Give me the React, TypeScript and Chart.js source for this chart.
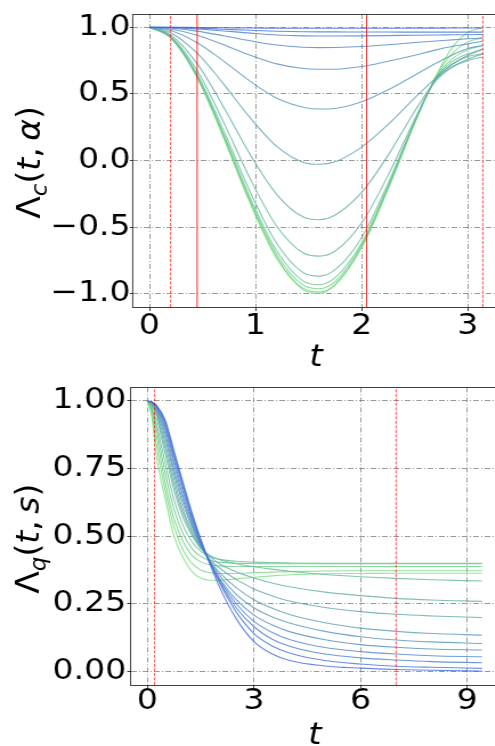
import React, { useEffect, useRef } from 'react';
import { Chart, registerables } from 'chart.js';

Chart.register(...registerables);

// ---------------- data: top panel  Λc(t, α) ----------------
const T_C = [0, 0.2, 0.45, 0.7, 0.95, 1.2, 1.45, 1.6, 1.75, 2.0, 2.25, 2.5, 2.7, 2.85, 3.0, 3.1416];
const LC_00 = [1, 1.0, 0.998, 0.996, 0.994, 0.993, 0.992, 0.992, 0.992, 0.992, 0.992, 0.993, 0.993, 0.994, 0.994, 0.995];
const LC_01 = [1, 0.999, 0.993, 0.985, 0.977, 0.97, 0.966, 0.965, 0.965, 0.964, 0.964, 0.963, 0.963, 0.963, 0.963, 0.963];
const LC_02 = [1, 0.997, 0.987, 0.972, 0.956, 0.942, 0.935, 0.934, 0.934, 0.935, 0.937, 0.94, 0.942, 0.943, 0.944, 0.945];
const LC_03 = [1, 0.994, 0.971, 0.936, 0.898, 0.866, 0.85, 0.847, 0.848, 0.855, 0.868, 0.885, 0.897, 0.905, 0.913, 0.92];
const LC_04 = [1, 0.987, 0.94, 0.868, 0.79, 0.725, 0.69, 0.684, 0.685, 0.705, 0.745, 0.79, 0.83, 0.855, 0.875, 0.896];
const LC_05 = [1, 0.976, 0.884, 0.745, 0.594, 0.467, 0.4, 0.386, 0.39, 0.44, 0.53, 0.64, 0.73, 0.79, 0.84, 0.863];
const LC_06 = [1, 0.959, 0.805, 0.573, 0.319, 0.105, -0.015, -0.029, -0.01, 0.1, 0.27, 0.47, 0.62, 0.72, 0.79, 0.834];
const LC_07 = [1, 0.943, 0.727, 0.4, 0.043, -0.256, -0.425, -0.445, -0.41, -0.24, 0.04, 0.37, 0.6, 0.7, 0.76, 0.8];
const LC_08 = [1, 0.932, 0.675, 0.286, -0.138, -0.494, -0.695, -0.718, -0.68, -0.47, -0.11, 0.31, 0.605, 0.7, 0.75, 0.777];
const LC_09 = [1, 0.926, 0.647, 0.224, -0.237, -0.624, -0.843, -0.868, -0.82, -0.58, -0.17, 0.295, 0.615, 0.72, 0.78, 0.8];
const LC_10 = [1, 0.924, 0.634, 0.197, -0.28, -0.68, -0.906, -0.933, -0.88, -0.62, -0.19, 0.29, 0.62, 0.74, 0.8, 0.834];
const LC_11 = [1, 0.922, 0.629, 0.185, -0.3, -0.707, -0.936, -0.963, -0.91, -0.635, -0.2, 0.285, 0.625, 0.76, 0.83, 0.863];
const LC_12 = [1, 0.921, 0.624, 0.174, -0.316, -0.728, -0.961, -0.988, -0.93, -0.65, -0.21, 0.28, 0.63, 0.8, 0.89, 0.92];
const LC_13 = [1, 0.921, 0.622, 0.17, -0.323, -0.737, -0.971, -0.998, -0.936, -0.654, -0.211, 0.284, 0.635, 0.843, 0.96, 0.995];
const LC_SERIES = [LC_00, LC_01, LC_02, LC_03, LC_04, LC_05, LC_06, LC_07, LC_08, LC_09, LC_10, LC_11, LC_12, LC_13];

const VLINES_C_SOLID = [0.45, 2.047];
const VLINES_C_DASHED = [0.2, 3.1416];
const X_TICKS_C = [0, 1, 2, 3];
const X_TICK_LABELS_C = ['0', '1', '2', '3'];
const Y_TICKS_C = [-1, -0.5, 0, 0.5, 1];
const Y_TICK_LABELS_C = ['\u22121.0', '\u22120.5', '0.0', '0.5', '1.0'];
const X_RANGE_C = [-0.157, 3.299];
const Y_RANGE_C = [-1.1, 1.1];
const X_TITLE_C = 't';
const Y_TITLE_C = [
  { text: '\u039B' },
  { text: 'c', italic: true, sub: true },
  { text: '(' },
  { text: 't', italic: true },
  { text: ',', gap: true },
  { text: '\u03B1', italic: true },
  { text: ')' },
];

// ---------------- data: bottom panel  Λq(t, s) ----------------
const T_Q = [0, 0.125, 0.25, 0.5, 0.75, 1.0, 1.25, 1.5, 1.75, 2.0, 2.5, 3.0, 3.5, 4.0, 5.0, 6.0, 7.0, 8.0, 9.42];
const LQ_00 = [1, 0.996, 0.985, 0.93, 0.815, 0.7, 0.59, 0.49, 0.4, 0.32, 0.195, 0.11, 0.065, 0.04, 0.02, 0.012, 0.007, 0.004, 0.001];
const LQ_01 = [1, 0.996, 0.984, 0.925, 0.805, 0.69, 0.58, 0.485, 0.405, 0.335, 0.22, 0.14, 0.095, 0.068, 0.04, 0.027, 0.019, 0.015, 0.011];
const LQ_02 = [1, 0.995, 0.982, 0.915, 0.795, 0.68, 0.572, 0.48, 0.405, 0.34, 0.235, 0.165, 0.12, 0.093, 0.064, 0.05, 0.042, 0.036, 0.032];
const LQ_03 = [1, 0.995, 0.98, 0.905, 0.78, 0.665, 0.563, 0.475, 0.405, 0.345, 0.25, 0.185, 0.145, 0.118, 0.088, 0.073, 0.064, 0.058, 0.054];
const LQ_04 = [1, 0.994, 0.977, 0.895, 0.765, 0.65, 0.553, 0.47, 0.405, 0.35, 0.265, 0.208, 0.172, 0.147, 0.117, 0.099, 0.089, 0.083, 0.079];
const LQ_05 = [1, 0.993, 0.973, 0.88, 0.745, 0.635, 0.545, 0.47, 0.41, 0.36, 0.285, 0.235, 0.202, 0.179, 0.148, 0.128, 0.116, 0.109, 0.103];
const LQ_06 = [1, 0.992, 0.968, 0.865, 0.73, 0.62, 0.535, 0.465, 0.41, 0.37, 0.31, 0.265, 0.234, 0.21, 0.18, 0.16, 0.148, 0.14, 0.134];
const LQ_07 = [1, 0.99, 0.962, 0.845, 0.71, 0.6, 0.522, 0.46, 0.415, 0.385, 0.34, 0.305, 0.28, 0.26, 0.236, 0.221, 0.211, 0.205, 0.199];
const LQ_08 = [1, 0.988, 0.955, 0.825, 0.69, 0.585, 0.512, 0.46, 0.425, 0.4, 0.368, 0.345, 0.327, 0.313, 0.293, 0.28, 0.27, 0.264, 0.259];
const LQ_09 = [1, 0.985, 0.945, 0.805, 0.67, 0.57, 0.503, 0.455, 0.43, 0.415, 0.398, 0.387, 0.378, 0.37, 0.358, 0.35, 0.344, 0.339, 0.334];
const LQ_10 = [1, 0.977, 0.92, 0.77, 0.635, 0.54, 0.48, 0.445, 0.425, 0.415, 0.407, 0.404, 0.402, 0.401, 0.4, 0.4, 0.4, 0.4, 0.4];
const LQ_11 = [1, 0.972, 0.9, 0.735, 0.6, 0.51, 0.455, 0.425, 0.41, 0.404, 0.4, 0.399, 0.398, 0.398, 0.398, 0.398, 0.398, 0.398, 0.398];
const LQ_12 = [1, 0.965, 0.875, 0.7, 0.565, 0.48, 0.43, 0.405, 0.394, 0.39, 0.388, 0.388, 0.388, 0.388, 0.388, 0.388, 0.388, 0.388, 0.388];
const LQ_13 = [1, 0.955, 0.84, 0.67, 0.535, 0.45, 0.4, 0.375, 0.365, 0.362, 0.362, 0.365, 0.367, 0.369, 0.371, 0.372, 0.372, 0.372, 0.372];
const LQ_14 = [1, 0.94, 0.8, 0.64, 0.5, 0.42, 0.37, 0.345, 0.337, 0.337, 0.342, 0.348, 0.353, 0.357, 0.361, 0.362, 0.363, 0.363, 0.363];
const LQ_SERIES = [LQ_00, LQ_01, LQ_02, LQ_03, LQ_04, LQ_05, LQ_06, LQ_07, LQ_08, LQ_09, LQ_10, LQ_11, LQ_12, LQ_13, LQ_14];

const VLINES_Q_SOLID: number[] = [];
const VLINES_Q_DASHED = [0.2, 7.0];
const X_TICKS_Q = [0, 3, 6, 9];
const X_TICK_LABELS_Q = ['0', '3', '6', '9'];
const Y_TICKS_Q = [0, 0.25, 0.5, 0.75, 1];
const Y_TICK_LABELS_Q = ['0.00', '0.25', '0.50', '0.75', '1.00'];
const X_RANGE_Q = [-0.471, 9.896];
const Y_RANGE_Q = [-0.05, 1.05];
const X_TITLE_Q = 't';
const Y_TITLE_Q = [
  { text: '\u039B' },
  { text: 'q', italic: true, sub: true },
  { text: '(' },
  { text: 't', italic: true },
  { text: ',', gap: true },
  { text: 's', italic: true },
  { text: ')' },
];

// ---------------- styling ----------------
const SX = 1.14; // horizontal stretch of the picture
const CW = Math.ceil(503 / SX); // internal canvas width
const FONT = '"DejaVu Sans", "Liberation Sans", sans-serif';
const TICK_SIZE = 29;
const TITLE_SIZE = 30;
const YTITLE_SIZE = 33;

function lineColor(i: number, n: number) {
  const f = n > 1 ? i / (n - 1) : 0;
  const c0 = [65, 105, 225];
  const c1 = [120, 225, 120];
  const c = c0.map((v, k) => Math.round(v + (c1[k] - v) * f));
  return `rgba(${c[0]},${c[1]},${c[2]},0.8)`;
}

const framePlugin = {
  id: 'frame',
  afterDraw(chart: any) {
    const { ctx, chartArea: a } = chart;
    ctx.save();
    ctx.strokeStyle = 'rgba(30,30,30,0.85)';
    ctx.lineWidth = 1;
    ctx.setLineDash([]);
    ctx.strokeRect(a.left, Math.round(a.top) + 0.5, a.right - a.left, Math.round(a.bottom) - Math.round(a.top));
    ctx.restore();
  },
};

function makeYTitlePlugin(parts: any[], cxScreen: number, dy: number) {
  return {
    id: 'richYTitle',
    afterDraw(chart: any) {
      const { ctx, chartArea: a } = chart;
      const size = YTITLE_SIZE;
      const cy = (a.top + a.bottom) / 2 + dy;
      const fontFor = (p: any) =>
        `${p.italic ? 'italic ' : ''}${Math.round(size * (p.sub ? 0.7 : 1))}px ${FONT}`;
      ctx.save();
      ctx.translate(cxScreen / SX, cy);
      ctx.scale(1 / SX, 1);
      ctx.rotate(-Math.PI / 2);
      let total = 0;
      const widths = parts.map((p) => {
        ctx.font = fontFor(p);
        const w = ctx.measureText(p.text).width + (p.gap ? size * 0.2 : 0);
        total += w;
        return w;
      });
      let x = -total / 2;
      const base = size * 0.3;
      ctx.fillStyle = '#000';
      ctx.textBaseline = 'alphabetic';
      ctx.textAlign = 'left';
      parts.forEach((p, i) => {
        ctx.font = fontFor(p);
        ctx.fillText(p.text, x, base + (p.sub ? size * 0.22 : 0));
        x += widths[i];
      });
      ctx.restore();
    },
  };
}

interface PanelSpec {
  height: number;
  t: number[];
  series: number[][];
  vSolid: number[];
  vDashed: number[];
  xTicks: number[];
  xLabels: string[];
  yTicks: number[];
  yLabels: string[];
  xRange: number[];
  yRange: number[];
  xTitle: string;
  yTitle: any[];
  padTop: number;
  padRight: number;
  yAxisWidth: number;
  xAxisHeight: number;
  xTickLen: number;
  xTickPad: number;
  yTickLen: number;
  yTickPad: number;
  titleLH: number;
  yTitleX: number;
  yTitleDy: number;
}

function buildConfig(s: PanelSpec): any {
  const datasets: any[] = [];
  s.vSolid.forEach((v) =>
    datasets.push({
      data: [{ x: v, y: s.yRange[0] }, { x: v, y: s.yRange[1] }],
      borderColor: 'rgba(235,0,0,0.95)',
      borderWidth: 1 / SX,
      pointRadius: 0,
    })
  );
  s.vDashed.forEach((v) =>
    datasets.push({
      data: [{ x: v, y: s.yRange[0] }, { x: v, y: s.yRange[1] }],
      borderColor: 'rgba(255,0,0,0.8)',
      borderWidth: 1 / SX,
      borderDash: [3, 1.5],
      pointRadius: 0,
    })
  );
  const n = s.series.length;
  s.series.forEach((arr, i) =>
    datasets.push({
      data: s.t.map((tv, k) => ({ x: tv, y: arr[k] })),
      borderColor: lineColor(i, n),
      borderWidth: 1.1,
      pointRadius: 0,
      cubicInterpolationMode: 'monotone',
    })
  );
  const grid = (tl: number) => ({
    color: 'rgba(110,110,110,0.7)',
    lineWidth: 1,
    drawTicks: true,
    tickLength: tl,
    tickColor: 'rgba(40,40,40,0.9)',
    tickWidth: 1,
  });
  const tickFont = { family: FONT, size: TICK_SIZE, lineHeight: 1 };
  return {
    type: 'line',
    data: { datasets },
    options: {
      responsive: false,
      animation: false,
      devicePixelRatio: 1,
      layout: { padding: { left: 0, right: s.padRight, top: s.padTop, bottom: 0 } },
      plugins: { legend: { display: false }, tooltip: { enabled: false }, title: { display: false } },
      elements: { point: { radius: 0 } },
      scales: {
        x: {
          type: 'linear',
          min: s.xRange[0],
          max: s.xRange[1],
          afterBuildTicks: (ax: any) => {
            ax.ticks = s.xTicks.map((v) => ({ value: v }));
          },
          afterFit: (ax: any) => {
            ax.height = s.xAxisHeight;
          },
          grid: grid(s.xTickLen),
          border: { display: false, dash: [5, 2, 1, 2] },
          ticks: {
            autoSkip: false,
            maxRotation: 0,
            minRotation: 0,
            padding: s.xTickPad,
            color: '#000',
            font: tickFont,
            callback: (_v: any, i: number) => s.xLabels[i],
          },
          title: {
            display: true,
            text: s.xTitle,
            color: '#000',
            padding: 0,
            font: { family: FONT, style: 'italic', size: TITLE_SIZE, lineHeight: s.titleLH },
          },
        },
        y: {
          type: 'linear',
          min: s.yRange[0],
          max: s.yRange[1],
          afterBuildTicks: (ax: any) => {
            ax.ticks = s.yTicks.map((v) => ({ value: v }));
          },
          afterFit: (ax: any) => {
            ax.width = s.yAxisWidth;
          },
          grid: grid(s.yTickLen),
          border: { display: false, dash: [5, 2, 1, 2] },
          ticks: {
            autoSkip: false,
            padding: s.yTickPad,
            color: '#000',
            font: tickFont,
            callback: (_v: any, i: number) => s.yLabels[i],
          },
        },
      },
    },
    plugins: [framePlugin, makeYTitlePlugin(s.yTitle, s.yTitleX, s.yTitleDy)],
  };
}

const TOP_SPEC: PanelSpec = {
  height: 372,
  t: T_C,
  series: LC_SERIES,
  vSolid: VLINES_C_SOLID,
  vDashed: VLINES_C_DASHED,
  xTicks: X_TICKS_C,
  xLabels: X_TICK_LABELS_C,
  yTicks: Y_TICKS_C,
  yLabels: Y_TICK_LABELS_C,
  xRange: X_RANGE_C,
  yRange: Y_RANGE_C,
  xTitle: X_TITLE_C,
  yTitle: Y_TITLE_C,
  padTop: 11,
  padRight: CW - 499.4 / SX,
  yAxisWidth: 132.7 / SX,
  xAxisHeight: 372 - 307,
  xTickLen: 4,
  xTickPad: 0.5,
  yTickLen: 2.5,
  yTickPad: -0.6,
  titleLH: 0.9,
  yTitleX: 30,
  yTitleDy: 2,
};

const BOTTOM_SPEC: PanelSpec = {
  height: 374,
  t: T_Q,
  series: LQ_SERIES,
  vSolid: VLINES_Q_SOLID,
  vDashed: VLINES_Q_DASHED,
  xTicks: X_TICKS_Q,
  xLabels: X_TICK_LABELS_Q,
  yTicks: Y_TICKS_Q,
  yLabels: Y_TICK_LABELS_Q,
  xRange: X_RANGE_Q,
  yRange: Y_RANGE_Q,
  xTitle: X_TITLE_Q,
  yTitle: Y_TITLE_Q,
  padTop: 14.5,
  padRight: CW - 498.8 / SX,
  yAxisWidth: 130.6 / SX,
  xAxisHeight: 374 - 312.9,
  xTickLen: 3,
  xTickPad: -0.5,
  yTickLen: 3,
  yTickPad: 0.9,
  titleLH: 0.65,
  yTitleX: 29,
  yTitleDy: 2.5,
};

function Panel({ spec, top }: { spec: PanelSpec; top: number }) {
  const ref = useRef<HTMLCanvasElement | null>(null);
  useEffect(() => {
    if (!ref.current) return;
    const chart = new Chart(ref.current, buildConfig(spec));
    return () => chart.destroy();
  }, [spec]);
  return (
    <canvas
      ref={ref}
      width={CW}
      height={spec.height}
      style={{
        position: 'absolute',
        left: 0,
        top,
        width: `${CW * SX}px`,
        height: `${spec.height}px`,
        display: 'block',
      }}
    />
  );
}

export default function App() {
  return (
    <div
      style={{
        position: 'absolute',
        left: 0,
        top: 0,
        width: 495,
        height: 746,
        overflow: 'hidden',
        background: '#fff',
      }}
    >
      <Panel spec={TOP_SPEC} top={0} />
      <Panel spec={BOTTOM_SPEC} top={372} />
    </div>
  );
}
